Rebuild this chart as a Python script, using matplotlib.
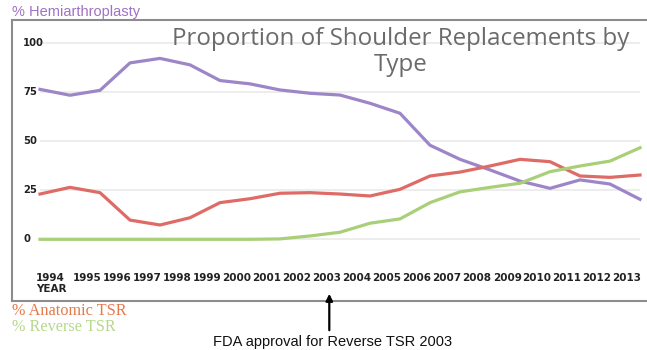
import numpy as np
import matplotlib
matplotlib.use("Agg")
import matplotlib.pyplot as plt

# Values (21 evenly spaced points)
hemi = [76.5, 73.5, 76, 90, 92.3, 89, 81, 79.3, 76.2, 74.5, 73.6,
        69.4, 64.3, 48, 40.8, 35.4, 29.7, 26, 30.3, 28.2, 20.4]
anatomic = [23.1, 26.5, 23.8, 9.8, 7.3, 11, 18.7, 20.7, 23.5, 23.8, 23.1,
            22.1, 25.5, 32.3, 34.3, 37.4, 40.8, 39.6, 32.3, 31.6, 32.8]
reverse = [0, 0, 0, 0, 0, 0, 0, 0, 0.2, 1.7, 3.6,
           8.2, 10.4, 18.7, 24.2, 26.5, 28.6, 34.5, 37.4, 39.9, 46.7]
years = [str(y) for y in range(1994, 2014)]
yticks = [0, 25, 50, 75, 100]

W, H = 647, 350
fig = plt.figure(figsize=(W / 100, H / 100), dpi=100)

# axes = grey frame box (pixels 12..647 x 20..301)
left, right, top, bottom = 12.3, 647, 20, 300.7
ax = fig.add_axes([left / W, 1 - bottom / H, (right - left) / W, (bottom - top) / H])
x = np.arange(len(hemi))
ax.set_xlim(-(40 - left) / 30, 20 + (right - 640) / 30)
ax.set_ylim(-(bottom - 239.3) / 1.96, 100 + (43.3 - top) / 1.96)

for s in ["left", "top", "bottom"]:
    ax.spines[s].set_color("#8c8c8c")
    ax.spines[s].set_linewidth(1.5)
ax.spines["right"].set_visible(False)
ax.set_xticks([])
ax.set_yticks([])

for v in yticks:
    ax.hlines(v, 0, 20, color="#ececec", lw=1.3, zorder=1)
    ax.text(-(40 - 23) / 30, v, str(v), ha="left", va="center",
            fontsize=7.2, fontweight="bold", color="#222222")

ax.plot(x, hemi, color="#9d86c8", lw=2.3, zorder=3)
ax.plot(x, anatomic, color="#de6b65", lw=2.3, zorder=3)
ax.plot(x, reverse, color="#a9cf78", lw=2.3, zorder=3)

# year labels sit between the data points
xl = [0.33] + [k + 0.57 for k in range(1, len(years))]
for xp, lab in zip(xl, years):
    ax.text(xp, -19.5, lab, ha="center", va="center", fontsize=7.5,
            fontweight="bold", color="#222222")
ax.text(-(40 - 36) / 30, -25.3, "YEAR", ha="left", va="center", fontsize=7.5,
        fontweight="bold", color="#222222")

# title
ax.text(401 / W, 1 - 39 / H, "Proportion of Shoulder Replacements by",
        transform=fig.transFigure, ha="center", va="center",
        fontsize=17.4, family="Open Sans", color="#6b6b6b")
ax.text(401 / W, 1 - 65 / H, "Type", transform=fig.transFigure,
        ha="center", va="center", fontsize=17.4, family="Open Sans", color="#6b6b6b")

# legend-like labels
fig.text(12 / W, 1 - 12 / H, "% Hemiarthroplasty", ha="left", va="center",
         fontsize=10.5, family="Liberation Sans", color="#a071c4")
fig.text(12 / W, 1 - 311 / H, "% Anatomic TSR", ha="left", va="center",
         fontsize=11.7, family="Liberation Serif", color="#e37a4c")
fig.text(12 / W, 1 - 327 / H, "% Reverse TSR", ha="left", va="center",
         fontsize=11.7, family="Liberation Serif", color="#b5d88a")

# FDA annotation
fig.text(333 / W, 1 - 342 / H, "FDA approval for Reverse TSR 2003",
         ha="center", va="center", fontsize=10.5, family="Liberation Sans",
         color="#111111")
ax.annotate("", xy=(329.3 / W, 1 - 291 / H), xytext=(329.3 / W, 1 - 333 / H),
            xycoords="figure fraction", textcoords="figure fraction",
            arrowprops=dict(arrowstyle="-|>", color="black", lw=1.6,
                            mutation_scale=10))

fig.savefig("out.png", dpi=100)
